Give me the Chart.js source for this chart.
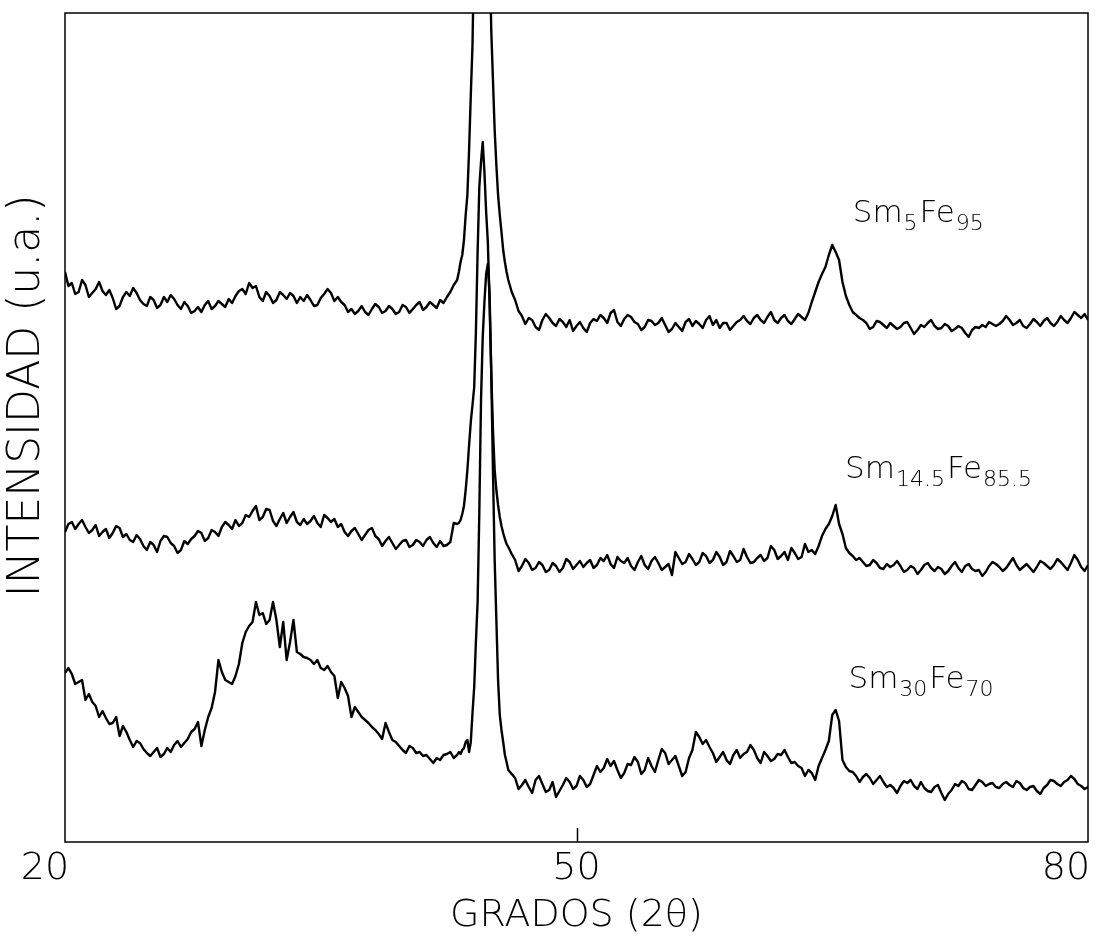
<!DOCTYPE html>
<html>
<head>
<meta charset="utf-8">
<title>Difractogramas SmFe</title>
<script src="https://cdn.jsdelivr.net/npm/chart.js@4.4.1/dist/chart.umd.min.js"></script>
<style>
  html, body { margin: 0; padding: 0; background: #fff; }
  #wrap { width: 1110px; height: 942px; }
</style>
</head>
<body>
<div id="wrap"><canvas id="xrd" width="1110" height="942"></canvas></div>
<script>
// 2θ sampling (degrees) shared by the three patterns, finer across the main peak
const twoTheta = [
  20.0, 20.2, 20.4, 20.6, 20.8, 21.0, 21.2, 21.4, 21.6, 21.8,
  22.0, 22.2, 22.4, 22.6, 22.8, 23.0, 23.2, 23.4, 23.6, 23.8,
  24.0, 24.2, 24.4, 24.6, 24.8, 25.0, 25.2, 25.4, 25.6, 25.8,
  26.0, 26.2, 26.4, 26.6, 26.8, 27.0, 27.2, 27.4, 27.6, 27.8,
  28.0, 28.2, 28.4, 28.6, 28.8, 29.0, 29.2, 29.4, 29.6, 29.8,
  30.0, 30.2, 30.4, 30.6, 30.8, 31.0, 31.2, 31.4, 31.6, 31.8,
  32.0, 32.2, 32.4, 32.6, 32.8, 33.0, 33.2, 33.4, 33.6, 33.8,
  34.0, 34.2, 34.4, 34.6, 34.8, 35.0, 35.2, 35.4, 35.6, 35.8,
  36.0, 36.2, 36.4, 36.6, 36.8, 37.0, 37.2, 37.4, 37.6, 37.8,
  38.0, 38.2, 38.4, 38.6, 38.8, 39.0, 39.2, 39.4, 39.6, 39.8,
  40.0, 40.2, 40.4, 40.6, 40.8, 41.0, 41.2, 41.4, 41.6, 41.8,
  42.0, 42.2, 42.4, 42.6, 42.8,
  43.0, 43.1, 43.2, 43.3, 43.4, 43.5, 43.6, 43.7, 43.8, 43.9,
  44.0, 44.1, 44.2, 44.3, 44.4, 44.5, 44.6, 44.7, 44.8, 44.9,
  45.0, 45.1, 45.2, 45.3, 45.4, 45.5, 45.6, 45.7, 45.8, 45.9, 46.0,
  46.2, 46.4, 46.6, 46.8, 47.0, 47.2, 47.4, 47.6, 47.8, 48.0,
  48.2, 48.4, 48.6, 48.8, 49.0, 49.2, 49.4, 49.6, 49.8, 50.0,
  50.2, 50.4, 50.6, 50.8, 51.0, 51.2, 51.4, 51.6, 51.8, 52.0,
  52.2, 52.4, 52.6, 52.8, 53.0, 53.2, 53.4, 53.6, 53.8, 54.0,
  54.2, 54.4, 54.6, 54.8, 55.0, 55.2, 55.4, 55.6, 55.8, 56.0,
  56.2, 56.4, 56.6, 56.8, 57.0, 57.2, 57.4, 57.6, 57.8, 58.0,
  58.2, 58.4, 58.6, 58.8, 59.0, 59.2, 59.4, 59.6, 59.8, 60.0,
  60.2, 60.4, 60.6, 60.8, 61.0, 61.2, 61.4, 61.6, 61.8, 62.0,
  62.2, 62.4, 62.6, 62.8, 63.0, 63.2, 63.4, 63.6, 63.8, 64.0,
  64.2, 64.4, 64.6, 64.8, 65.0, 65.2, 65.4, 65.6, 65.8, 66.0,
  66.2, 66.4, 66.6, 66.8, 67.0, 67.2, 67.4, 67.6, 67.8, 68.0,
  68.2, 68.4, 68.6, 68.8, 69.0, 69.2, 69.4, 69.6, 69.8, 70.0,
  70.2, 70.4, 70.6, 70.8, 71.0, 71.2, 71.4, 71.6, 71.8, 72.0,
  72.2, 72.4, 72.6, 72.8, 73.0, 73.2, 73.4, 73.6, 73.8, 74.0,
  74.2, 74.4, 74.6, 74.8, 75.0, 75.2, 75.4, 75.6, 75.8, 76.0,
  76.2, 76.4, 76.6, 76.8, 77.0, 77.2, 77.4, 77.6, 77.8, 78.0,
  78.2, 78.4, 78.6, 78.8, 79.0, 79.2, 79.4, 79.6, 79.8, 80.0
];

// intensities (u.a.), stacked as in the figure
const sm5Fe95 = [
  570, 556, 559, 548, 550, 562, 557, 545, 549, 553,
  560, 551, 547, 552, 544, 533, 536, 545, 550, 546,
  554, 549, 542, 538, 536, 545, 542, 534, 537, 545,
  540, 547, 543, 537, 533, 540, 536, 529, 531, 535,
  530, 537, 541, 533, 536, 541, 538, 535, 543, 539,
  546, 551, 553, 548, 559, 554, 556, 545, 541, 550,
  546, 539, 542, 550, 547, 543, 549, 546, 539, 545,
  541, 547, 542, 536, 537, 544, 548, 553, 549, 541,
  545, 540, 537, 530, 533, 528, 531, 536, 530, 527,
  533, 538, 535, 529, 531, 536, 533, 528, 530, 537,
  535, 529, 533, 537, 540, 532, 535, 540, 537, 534,
  542, 539, 545, 550, 557,
  562, 570, 580, 587, 602, 627, 647, 692, 747, 797,
  900, 1000, 1100, 1200, 1250, 1250, 1200, 1100, 1000, 900,
  812, 762, 712, 677, 647, 627, 610, 592, 580, 570, 562,
  550, 542, 531, 526, 518, 524, 522, 515, 512, 522,
  528, 524, 519, 516, 523, 520, 515, 522, 511, 516,
  520, 514, 510, 519, 523, 521, 527, 524, 519, 529,
  532, 520, 516, 523, 527, 525, 520, 518, 512, 515,
  522, 521, 517, 519, 524, 517, 510, 513, 519, 515,
  511, 520, 523, 516, 521, 518, 514, 522, 526, 517,
  522, 514, 519, 519, 512, 516, 520, 522, 526, 521,
  518, 524, 527, 522, 519, 525, 530, 522, 519, 524,
  527, 521, 518, 523, 528, 525, 522, 529, 540, 550,
  560, 568, 575, 587, 597, 590, 582, 560, 546, 537,
  530, 527,
  524, 522, 519, 513, 515, 521, 520, 517, 514, 519,
  516, 513, 515, 519, 520, 514, 508, 512, 517, 515,
  519, 522, 516, 513, 514, 518, 516, 511, 513, 516,
  514, 509, 505, 512, 515, 514, 517, 515, 520, 518,
  516, 518, 521, 526, 522, 517, 519, 522, 516, 514,
  518, 523, 520, 516, 521, 524, 519, 516, 520, 526,
  522, 519, 524, 530, 527, 524, 528, 522
];

const sm145Fe855 = [
  310, 318, 320, 313, 318, 322, 315, 309, 312, 317,
  306, 310, 313, 304, 309, 316, 314, 305, 308, 302,
  300, 307, 303, 296, 292, 300, 297, 290, 301, 306,
  305, 299, 296, 289, 292, 301, 298, 303, 306, 311,
  309, 301, 304, 312, 310, 306, 315, 320, 317, 313,
  322, 316, 319, 327, 325, 331, 336, 322, 325, 333,
  332, 321, 316, 323, 329, 319, 325, 330, 320, 317,
  323, 318, 321, 326, 319, 315, 327, 324, 320, 323,
  315, 318, 310, 306, 311, 314, 308, 302, 307, 312,
  314, 306, 303, 296, 301, 305, 299, 293, 297, 301,
  302, 295, 297, 302, 300, 296, 302, 305, 299, 295,
  301, 296, 297, 300, 319,
  318, 319, 322, 328, 336, 352, 372, 397, 420, 437,
  455, 510, 590, 655, 680, 700, 670, 630, 600, 540,
  470, 412, 372, 352, 337, 325, 316, 309, 303, 298, 295,
  288, 282, 271, 276, 283, 279, 272, 274, 280, 277,
  270, 272, 279, 276, 270, 274, 283, 280, 273, 277,
  281, 275, 279, 282, 274, 277, 284, 281, 287, 278,
  274, 285, 281, 279, 284, 276, 272, 280, 286, 277,
  273, 281, 285, 279, 272, 275, 278, 267, 290, 284,
  278, 280, 288, 283, 277, 280, 289, 286, 279, 282,
  290, 285, 277, 280, 291, 286, 280, 282, 293, 285,
  279, 280, 284, 287, 281, 284, 296, 292, 283, 286,
  290, 282, 294, 289, 283, 285, 298, 290, 292, 288,
  296, 306, 313, 318, 326, 337, 318, 308, 294, 289,
  286, 282,
  284, 280, 276, 277, 282, 279, 274, 273, 278, 275,
  277, 281, 276, 270, 272, 276, 274, 268, 272, 277,
  279, 274, 271, 275, 273, 268, 271, 276, 280, 274,
  270, 276, 278, 273, 271, 272, 266, 270, 276, 280,
  278, 275, 271, 274, 279, 284, 277, 272, 275, 278,
  274, 270, 275, 281, 279, 276, 273, 277, 283, 280,
  276, 272, 279, 287, 282, 275, 271, 277
];

const sm30Fe70 = [
  169, 174, 168, 158, 160, 162, 142, 148, 140, 136,
  125, 131, 124, 118, 119, 125, 106, 116, 110, 102,
  95, 101, 99, 93, 89, 86, 90, 94, 85, 88,
  94, 90, 97, 101, 95, 99, 103, 110, 113, 120,
  96, 112, 125, 134, 150, 182, 170, 162, 160, 158,
  166, 178, 199, 210, 216, 220, 240, 227, 229, 218,
  222, 240, 222, 195, 220, 182, 200, 222, 190, 188,
  185, 184, 182, 178, 182, 174, 172, 176, 170, 166,
  144, 160, 154, 146, 125, 135, 130, 125, 122, 119,
  115, 112, 108, 103, 119, 110, 102, 100, 96, 92,
  89, 96, 94, 89, 90, 86, 87, 83, 79, 84,
  82, 87, 88, 90, 84,
  87, 90, 88, 92, 94, 100, 102, 90, 100, 129,
  155, 200, 240, 330, 442, 505, 540, 568, 578, 550,
  470, 372, 282, 222, 162, 127, 112, 100, 87, 80, 72,
  68, 64, 53, 57, 62, 55, 49, 62, 66, 58,
  50, 52, 60, 45, 51, 57, 64, 60, 53, 56,
  66, 62, 55, 58, 67, 76, 70, 74, 83, 76,
  81, 72, 64, 69, 78, 77, 85, 80, 68, 72,
  84, 76, 70, 82, 93, 89, 78, 82, 86, 76,
  66, 70, 84, 92, 110, 105, 98, 102, 95, 89,
  80, 85, 90, 82, 78, 87, 92, 84, 88, 90,
  97, 92, 84, 79, 90, 86, 81, 83, 88, 87,
  92, 85, 79, 80, 76, 74, 66, 72, 69, 62,
  76, 84, 92, 101, 127, 132, 121, 82, 75, 71,
  70, 66,
  60, 65, 68, 64, 58, 62, 66, 60, 55, 57,
  54, 49, 56, 61, 59, 62, 56, 53, 60, 54,
  51, 50, 55, 57, 49, 42, 48, 52, 58, 56,
  61, 59, 53, 52, 57, 62, 60, 56, 58, 59,
  55, 54, 58, 60, 57, 55, 61, 59, 54, 52,
  55, 56, 51, 48, 54, 57, 62, 61, 58, 56,
  60, 62, 66, 63, 58, 56, 53, 55
];

const xTicks = [20, 50, 80];
const sampleNames = [
  ['Sm', '5', 'Fe', '95'],
  ['Sm', '14.5', 'Fe', '85.5'],
  ['Sm', '30', 'Fe', '70']
];
const yTitle = 'INTENSIDAD (u.a.)';

const FONT = "'DejaVu Sans', 'Liberation Sans', sans-serif";
const WEIGHT = '200';
const INK = '#000';

const toPoints = ys => ys.map((y, i) => ({ x: twoTheta[i], y }));

// frame, inner tick at 50, y title and the composition labels
const frame = {
  id: 'frame',
  beforeDraw(chart) {
    // the end labels sit a little left of their ticks in the original
    const items = chart.scales.x.getLabelItems();
    if (items.length && !items[0].shifted) {
      items[0].options.translation[0] -= 20;
      items[items.length - 1].options.translation[0] -= 22;
      items[0].shifted = true;
    }
  },
  afterDraw(chart) {
    const { ctx, chartArea: a, scales } = chart;
    ctx.save();
    ctx.strokeStyle = INK;
    ctx.lineWidth = 1.5;
    ctx.strokeRect(a.left, a.top, a.right - a.left, a.bottom - a.top);

    const tx = Math.round(scales.x.getPixelForValue(50)) + 0.5;
    ctx.beginPath();
    ctx.moveTo(tx, a.bottom);
    ctx.lineTo(tx, a.bottom - 14);
    ctx.stroke();

    ctx.fillStyle = INK;
    ctx.save();
    ctx.translate(28, a.top + (a.bottom - a.top) * 0.462);
    ctx.rotate(-Math.PI / 2);
    ctx.textAlign = 'center';
    ctx.textBaseline = 'middle';
    ctx.font = WEIGHT + ' 44px ' + FONT;
    ctx.fillText(yTitle, 0, 0);
    ctx.restore();

    const anchors = [[66.2, 620], [65.75, 364], [65.95, 154]];
    ctx.textBaseline = 'alphabetic';
    ctx.textAlign = 'left';
    sampleNames.forEach((parts, i) => {
      let px = scales.x.getPixelForValue(anchors[i][0]);
      const py = scales.y.getPixelForValue(anchors[i][1]);
      parts.forEach((p, j) => {
        const sub = j % 2 === 1;
        ctx.font = WEIGHT + ' ' + (sub ? 22 : 31) + 'px ' + FONT;
        ctx.fillText(p, px, py + (sub ? 8 : 0));
        px += ctx.measureText(p).width + (sub ? 2 : 1);
      });
    });
    ctx.restore();
  }
};

const series = [sm5Fe95, sm145Fe855, sm30Fe70];

new Chart(document.getElementById('xrd'), {
  type: 'line',
  data: {
    datasets: series.map((ys, i) => ({
      label: sampleNames[i].join(''),
      data: toPoints(ys),
      borderColor: INK,
      borderWidth: 2.4,
      pointRadius: 0,
      tension: 0,
      borderJoinStyle: 'round'
    }))
  },
  options: {
    responsive: false,
    animation: false,
    devicePixelRatio: 1,
    layout: { padding: { top: 13, right: 22, left: 0, bottom: 0 } },
    plugins: { legend: { display: false }, tooltip: { enabled: false } },
    scales: {
      x: {
        type: 'linear',
        min: 20,
        max: 80,
        afterBuildTicks: s => { s.ticks = xTicks.map(v => ({ value: v })); },
        afterFit: s => { s.height = 100; s.paddingLeft = 0; s.paddingRight = 0; },
        grid: { display: false, drawTicks: false },
        border: { display: false },
        ticks: { padding: 4, color: INK, maxRotation: 0, autoSkip: false, font: { family: FONT, size: 38, weight: WEIGHT } },
        title: { display: true, text: 'GRADOS (2θ)', color: INK, padding: { top: 0, bottom: 3 }, font: { family: FONT, size: 38, weight: WEIGHT } }
      },
      y: {
        min: 0,
        max: 829,
        afterFit: s => { s.width = 65; },
        grid: { display: false },
        border: { display: false },
        ticks: { display: false }
      }
    }
  },
  plugins: [frame]
});
</script>
</body>
</html>
